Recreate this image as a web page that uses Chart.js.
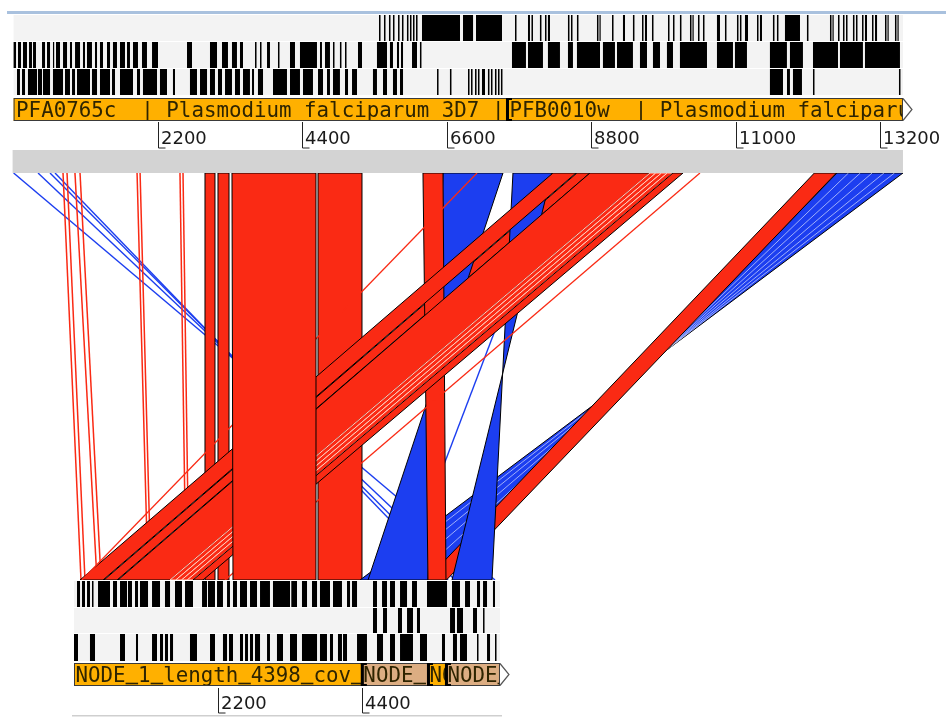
<!DOCTYPE html>
<html><head><meta charset="utf-8">
<script src="https://cdn.jsdelivr.net/npm/chart.js@4.4.1/dist/chart.umd.min.js"></script>
<style>html,body{margin:0;padding:0;background:#fff;overflow:hidden}canvas{display:block}</style>
</head><body>
<canvas id="c" width="946" height="717"></canvas>
<script>
// ---------------- DATA (sequence coordinates, bp) ----------------
const TOP_TICKS = [2200, 4400, 6600, 8800, 11000, 13200];
const BOTTOM_TICKS = [2200, 4400];
const TOP_LENGTH = 13550;
const BOTTOM_LENGTH = 6508;

const TOP_GENES = [
  {label: 'PFA0765c  | Plasmodium falciparum 3D7 |', start: 0, end: 7517, color: '#ffb000'},
  {label: 'PFB0010w  | Plasmodium falciparum 3D7 |', start: 7517, end: 13550, color: '#ffb000'}
];
const BOTTOM_CONTIGS = [
  {label: 'NODE_1_length_4398_cov_21.5', start: 0, end: 4398, color: '#ffb000'},
  {label: 'NODE_2_length_1010_cov_9.8', start: 4398, end: 5408, color: '#dcad82'},
  {label: 'NODE_3_length_275_cov_4.1', start: 5408, end: 5683, color: '#ffb000'},
  {label: 'NODE_4_length_825_cov_6.3', start: 5683, end: 6508, color: '#dcad82'}
];

// stop codon bars per frame line [start, end]
const TOP_FRAME_1 = [[5567,5590],[5643,5666],[5719,5742],[5780,5803],[5857,5880],[5917,5940],[5993,6016],[6039,6062],[6085,6108],[6131,6154],[6222,6801],[6847,7000],[7045,7441],[7639,7662],[7837,7867],[7890,7913],[8019,8042],[8096,8119],[8141,8172],[8446,8469],[8492,8515],[8583,8606],[8888,8911],[8926,8941],[9117,9140],[9284,9315],[9436,9459],[9574,9597],[9619,9650],[9726,9749],[9970,9993],[10046,10069],[10152,10175],[10305,10328],[10343,10358],[10427,10450],[10503,10526],[10716,10762],[10838,10861],[11021,11044],[11066,11089],[11143,11189],[11326,11349],[11371,11402],[11569,11592],[11630,11653],[11752,11981],[12087,12110],[12438,12461],[12476,12491],[12560,12583],[12636,12659],[12682,12705],[12788,12811],[12834,12857],[12926,12949],[12971,13002],[13078,13101],[13124,13155],[13276,13299],[13314,13329],[13428,13451],[13466,13481]];
const TOP_FRAME_2 = [[0,37],[67,113],[143,204],[235,280],[296,341],[433,479],[509,555],[600,616],[646,707],[753,814],[859,890],[936,1012],[1057,1088],[1118,1194],[1240,1271],[1316,1362],[1423,1469],[1514,1575],[1621,1697],[1728,1773],[1819,1895],[1956,2032],[2109,2200],[2642,2718],[2992,3099],[3175,3266],[3327,3403],[3449,3495],[3678,3701],[3754,3777],[3861,3906],[4028,4051],[4211,4287],[4363,4622],[4668,4698],[4744,4820],[4866,4889],[4972,4995],[5049,5072],[5247,5308],[5536,5689],[5734,5780],[5841,5872],[5902,5933],[6070,6146],[6191,6214],[7593,7806],[7837,8065],[8141,8324],[8446,8522],[8583,8934],[8979,9162],[9193,9436],[9543,9650],[9741,9848],[9954,10046],[10152,10564],[10716,10960],[10990,11173],[11523,11782],[11828,12026],[12179,12560],[12590,12940],[12971,13504]];
const TOP_FRAME_3 = [[52,97],[128,174],[219,357],[372,433],[448,555],[600,753],[783,859],[890,936],[966,1164],[1194,1271],[1316,1469],[1499,1545],[1621,1819],[1880,1926],[1971,2185],[2230,2337],[2428,2459],[2687,2794],[2840,2947],[2992,3068],[3114,3175],[3221,3327],[3373,3449],[3495,3601],[3632,3663],[3723,3800],[3952,4165],[4211,4363],[4409,4561],[4638,4714],[4775,4820],[4866,4972],[5049,5095],[5156,5232],[5475,5536],[5628,5689],[5780,5841],[5887,5933],[6451,6474],[6648,6671],[6923,6946],[6969,6992],[7030,7053],[7075,7098],[7136,7182],[7227,7250],[7273,7296],[7334,7357],[7380,7403],[7425,7448],[11523,11722],[11783,11828],[11874,12011],[12179,12202],[13489,13512]];

const BOTTOM_FRAME_1 = [[46,92],[122,168],[199,244],[275,298],[367,550],[596,657],[703,810],[825,886],[932,978],[1008,1131],[1192,1314],[1390,1467],[1543,1650],[1696,1818],[1956,2032],[2047,2154],[2185,2276],[2338,2383],[2429,2490],[2536,2643],[2689,2796],[2842,2994],[3040,3300],[3320,3407],[3483,3560],[3636,3713],[3758,3911],[3957,4094],[4171,4217],[4247,4324],[4568,4629],[4706,4782],[4828,4904],[4981,5088],[5164,5240],[5393,5699],[5775,5897],[5974,6050],[6157,6203],[6249,6310],[6401,6432]];
const BOTTOM_FRAME_2 = [[4568,4629],[4721,4782],[4950,5011],[5088,5179],[5240,5286],[5745,5821],[5851,5943],[6096,6157],[6249,6272]];
const BOTTOM_FRAME_3 = [[0,61],[244,321],[703,779],[947,978],[1192,1268],[1314,1360],[1390,1436],[1467,1513],[1772,1879],[2078,2154],[2276,2338],[2368,2429],[2536,2582],[2613,2658],[2689,2735],[2765,2842],[2949,2994],[3101,3193],[3300,3407],[3483,3713],[3758,3865],[3911,3957],[4033,4094],[4110,4171],[4324,4476],[4629,4721],[4828,4904],[4981,5179],[5286,5393],[5622,5668],[5790,5851],[5897,6004],[6157,6180],[6310,6356],[6432,6455]];

// comparison hits: [topStart, topEnd, bottomStart, bottomEnd]
const FORWARD_MATCHES = [
  [2916, 3068, 2001, 2154],
  [3114, 3282, 2200, 2368],
  [4638, 5308, 3728, 4400],
  [8583, 8781, 458, 657],
  [12200, 12535, 5380, 5690],
  [6237, 6542, 5408, 5683],
  [8218, 8568, 92, 443],
  [8781, 9696, 672, 1467],
  [10046, 10199, 1818, 1971],
  [3327, 4607, 2429, 3697]
];
const FORWARD_HATCHED = [[9696,9784,1467,1555],[9784,9871,1555,1643],[9871,9959,1643,1730],[9959,10046,1730,1818]];
const REVERSE_MATCHES = [
  [12545, 13550, 4370, 5607],
  [6542, 7456, 4492, 5408],
  [7608, 8200, 5775, 6386]
];
// internal boundaries of the right-hand inverted block: [topPos, bottomPos]
const REVERSE_HATCH_LINES = [[12720,5390],[12900,5170],[13080,4950],[13260,4730],[13420,4530]];
// short hits drawn as lines: [topPos, bottomPos]
const FORWARD_LINES = [[753,107],[814,168],[935,351],[1012,413],[1881,1131],[1927,1176],[2535,1711],[2581,1757]];
const FORWARD_LONG_LINES = [[7060,122],[10457,2307]];
const REVERSE_LINES = [[0,6432],[372,6020],[555,5821],[631,5714],[8248,4981]];

// ---------------- LAYOUT / STYLE ----------------
const L = {
  rule: 12, rows: [[15,41],[42,68],[69,95]], gene: [98,121], ticks: [122,148,144],
  gray: [150,173], mTop: 173, mBot: 580,
  bRows: [[581,607],[608,633],[634,661]], bGene: [663,686], bTicks: [688,713,709], bRule: 715
};
const RED = '#fa2a14', BLUE = '#1c3ef0';

const actPlugin = {
  id: 'act',
  afterDraw(chart) {
    const ctx = chart.ctx;
    const XT = chart.scales.xTop, XB = chart.scales.xBot, Y = chart.scales.y;
    const xt = v => XT.getPixelForValue(v), xb = v => XB.getPixelForValue(v), y = v => Y.getPixelForValue(v);
    ctx.save();
    ctx.fillStyle = '#fff'; ctx.fillRect(0, 0, chart.width, chart.height);

    // top rule
    ctx.fillStyle = '#a9c1de';
    ctx.fillRect(7, y(L.rule - 1), chart.width, 3);

    function frames(xf, len, rows, list) {
      rows.forEach((r, i) => {
        ctx.fillStyle = '#f3f3f3';
        ctx.fillRect(xf(0), y(r[0]), xf(len) - xf(0), y(r[1]) - y(r[0]));
        ctx.fillStyle = '#000';
        list[i].forEach(b => {
          const a = xf(b[0]), w = Math.max(1.2, xf(b[1]) - a);
          ctx.fillRect(a, y(r[0]), w, y(r[1]) - y(r[0]));
        });
      });
    }
    frames(xt, TOP_LENGTH, L.rows, [TOP_FRAME_1, TOP_FRAME_2, TOP_FRAME_3]);
    frames(xb, BOTTOM_LENGTH, L.bRows, [BOTTOM_FRAME_1, BOTTOM_FRAME_2, BOTTOM_FRAME_3]);

    function genes(xf, list, g, inset) {
      const y0 = y(g[0]), y1 = y(g[1]);
      list.forEach((f, i) => {
        const a = xf(f.start), b = xf(f.end);
        ctx.fillStyle = f.color;
        ctx.fillRect(a, y0, b - a, y1 - y0);
        ctx.save();
        ctx.beginPath(); ctx.rect(a, y0, b - a, y1 - y0); ctx.clip();
        ctx.fillStyle = '#2e2400';
        ctx.font = '20.8px "DejaVu Sans Mono"';
        ctx.textBaseline = 'alphabetic';
        const tx = a + inset, ty = y1 - 4.5;
        ctx.fillText(f.label, tx, ty);
        const cw = ctx.measureText('0').width;
        for (let k = 0; k < f.label.length; k++) {
          if (f.label[k] === '_') ctx.fillRect(tx + k * cw, ty + 1.2, cw, 1.6);
        }
        ctx.restore();
        ctx.strokeStyle = '#3a3a3a'; ctx.lineWidth = 1;
        ctx.strokeRect(a + 0.5, y0 + 0.5, b - a - 1, y1 - y0 - 1);
        if (i > 0) {
          ctx.fillStyle = '#000';
          ctx.fillRect(a - 1, y0, 3, y1 - y0);
          ctx.fillRect(a - 1, y0, 6, 2);
          ctx.fillRect(a - 1, y1 - 2, 6, 2);
        }
      });
      const last = list[list.length - 1], e = xf(last.end);
      ctx.beginPath();
      ctx.moveTo(e, y0 + 0.5); ctx.lineTo(e + 9, (y0 + y1) / 2); ctx.lineTo(e, y1 - 0.5);
      ctx.fillStyle = '#fff'; ctx.fill();
      ctx.strokeStyle = '#555'; ctx.lineWidth = 1.2; ctx.stroke();
    }
    genes(xt, TOP_GENES, L.gene, 2.5);
    genes(xb, BOTTOM_CONTIGS, L.bGene, 1.5);

    function ticks(xf, list, t) {
      ctx.strokeStyle = '#222'; ctx.lineWidth = 1;
      ctx.fillStyle = '#1a1a1a';
      ctx.font = '18px "DejaVu Sans"';
      ctx.textBaseline = 'alphabetic';
      list.forEach(v => {
        const x = Math.round(xf(v)) + 0.5;
        ctx.beginPath();
        ctx.moveTo(x, y(t[0])); ctx.lineTo(x, y(t[1])); ctx.lineTo(x + 7, y(t[1]));
        ctx.stroke();
        ctx.fillText(String(v), x + 2.5, y(t[2]));
      });
    }
    ticks(xt, TOP_TICKS, L.ticks);
    ticks(xb, BOTTOM_TICKS, L.bTicks);

    // gray strip above comparison
    ctx.fillStyle = '#d3d3d3';
    ctx.fillRect(xt(0) - 1, y(L.gray[0]), xt(TOP_LENGTH) - xt(0) + 1, y(L.gray[1]) - y(L.gray[0]));

    // comparison area
    const yt = y(L.mTop), yb = y(L.mBot);
    ctx.save();
    ctx.beginPath(); ctx.rect(0, yt, chart.width, yb - yt); ctx.clip();
    function quad(m, rev, fill, stroke, lw) {
      ctx.beginPath();
      ctx.moveTo(xt(m[0]), yt); ctx.lineTo(xt(m[1]), yt);
      if (rev) { ctx.lineTo(xb(m[2]), yb); ctx.lineTo(xb(m[3]), yb); }
      else { ctx.lineTo(xb(m[3]), yb); ctx.lineTo(xb(m[2]), yb); }
      ctx.closePath();
      ctx.fillStyle = fill; ctx.fill('nonzero');
      if (stroke) { ctx.strokeStyle = stroke; ctx.lineWidth = lw || 1; ctx.stroke(); }
    }
    function line(l, color, w) {
      ctx.beginPath();
      ctx.moveTo(xt(l[0]), yt); ctx.lineTo(xb(l[1]), yb);
      ctx.strokeStyle = color; ctx.lineWidth = w; ctx.stroke();
    }
    REVERSE_LINES.forEach(l => line(l, BLUE, 1.4));
    FORWARD_LINES.forEach(l => line(l, RED, 1.5));
    for (let i = 0; i <= 3; i++) quad(FORWARD_MATCHES[i], false, RED, '#000', 1);
    quad(REVERSE_MATCHES[0], true, BLUE, '#000', 1);
    REVERSE_HATCH_LINES.forEach(l => line(l, 'rgba(235,240,255,0.8)', 0.8));
    quad(FORWARD_MATCHES[4], false, RED, '#000', 1);
    quad(REVERSE_MATCHES[1], true, BLUE, '#000', 1);
    quad(REVERSE_MATCHES[2], true, BLUE, '#000', 1);
    for (let i = 5; i <= 7; i++) quad(FORWARD_MATCHES[i], false, RED, '#000', 1);
    FORWARD_HATCHED.forEach(m => quad(m, false, RED, '#ffd0c2', 1));
    quad(FORWARD_MATCHES[8], false, RED, '#000', 1);
    FORWARD_LONG_LINES.forEach(l => line(l, RED, 1.3));
    quad(FORWARD_MATCHES[9], false, RED, '#000', 1);
    ctx.restore();

    // bottom rule
    ctx.fillStyle = '#cfcfcf';
    ctx.fillRect(xb(0) - 2, y(L.bRule), xb(BOTTOM_LENGTH) - xb(0) + 4, 1.5);
    ctx.restore();
  }
};

const W = 946, H = 717;
const topPxPerBp = 144.4 / 2200, botPxPerBp = 144 / 2200;
new Chart(document.getElementById('c'), {
  type: 'scatter',
  data: { datasets: [] },
  options: {
    responsive: false, animation: false, devicePixelRatio: 1,
    layout: { padding: 0 },
    plugins: { legend: { display: false }, tooltip: { enabled: false }, title: { display: false } },
    scales: {
      xTop: { type: 'linear', display: false, min: -13.6 / topPxPerBp, max: (W - 13.6) / topPxPerBp },
      xBot: { type: 'linear', display: false, min: -74 / botPxPerBp, max: (W - 74) / botPxPerBp },
      y: { type: 'linear', display: false, min: 0, max: H, reverse: true }
    }
  },
  plugins: [actPlugin]
});
</script>
</body></html>
